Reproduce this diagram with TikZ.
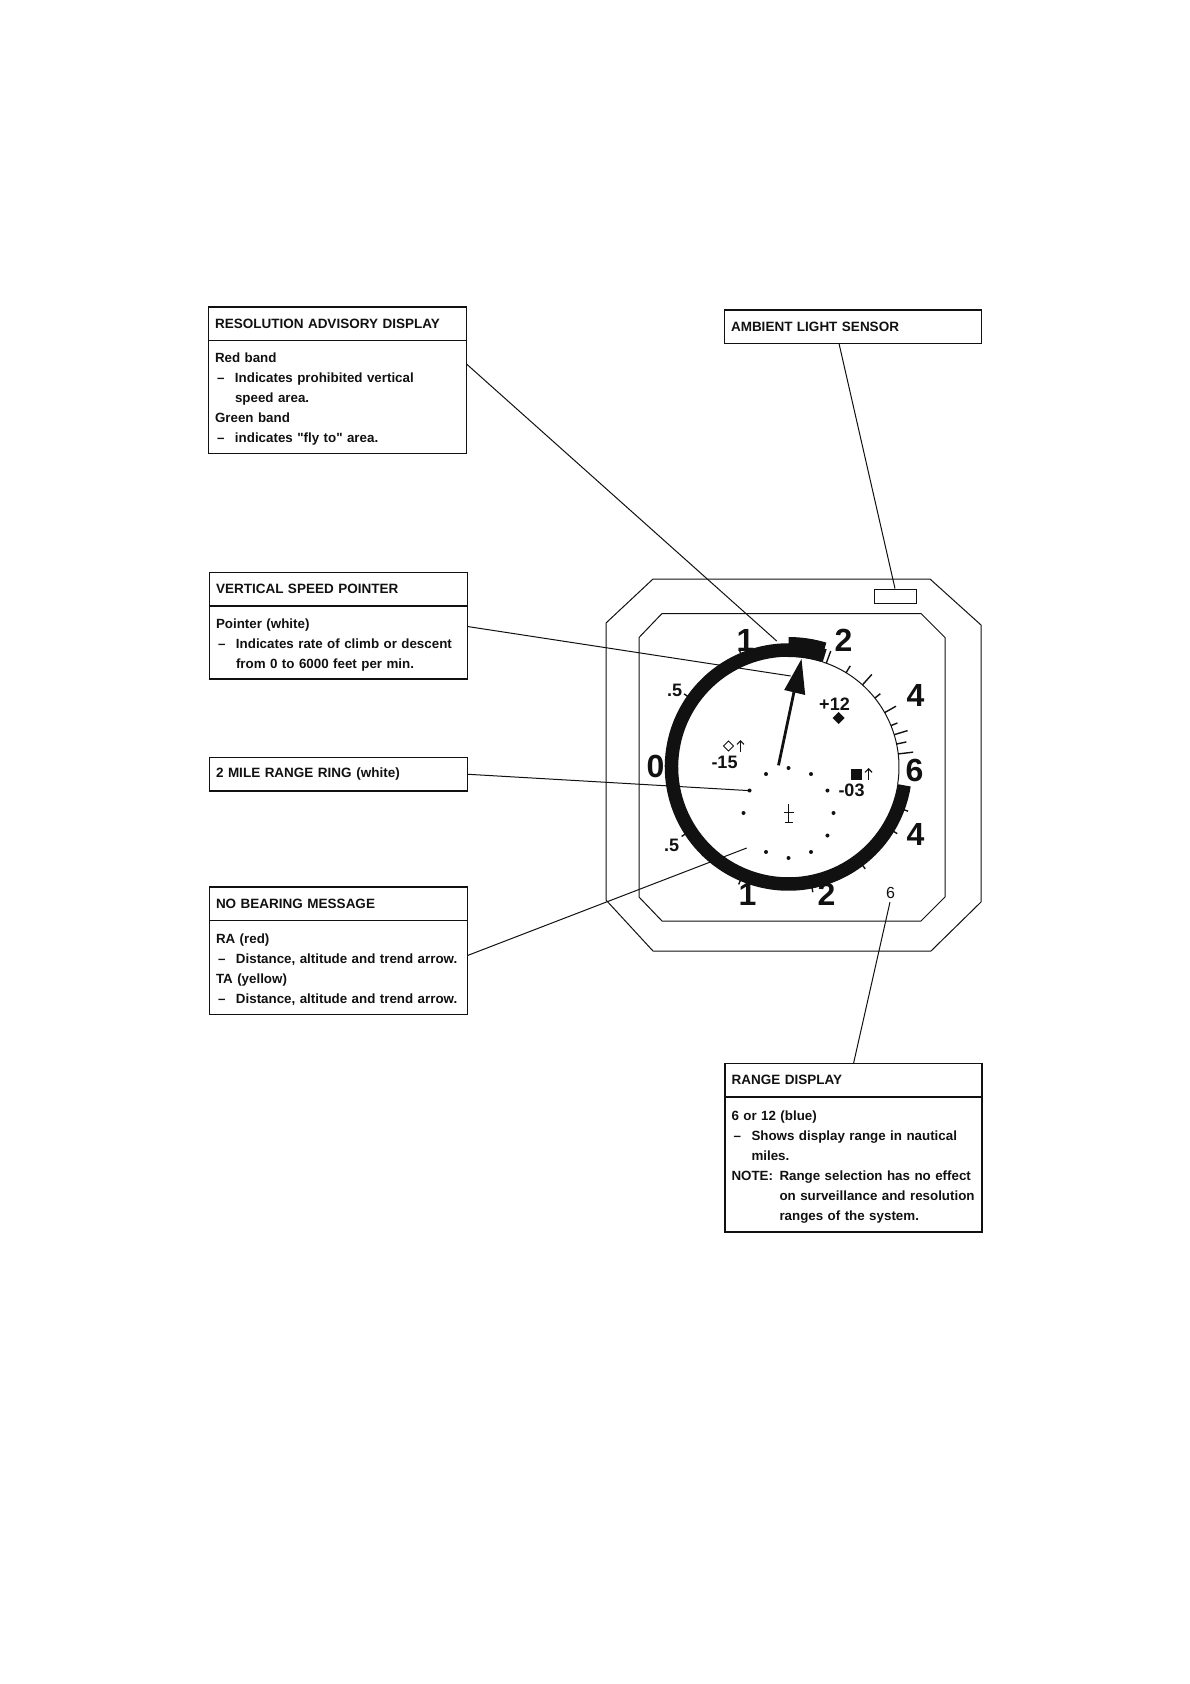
\documentclass[tikz,border=0pt]{standalone}
\usepackage{fontspec}
\setmainfont{Liberation Sans}[Ligatures=TeXOff]
\usetikzlibrary{positioning,arrows.meta,calc}
\definecolor{ink}{HTML}{111111}
\newcommand{\dashitem}[1]{\makebox[20pt][l]{\hspace{2pt}–}#1}
\newcommand{\indentitem}[1]{\hspace*{20pt}#1}
\newcommand{\noteitem}[1]{\hspace*{48pt}\mbox{#1}}
\tikzset{
  titlebox/.style={draw=ink, line width=1.2pt, anchor=north west, outer sep=0pt, inner xsep=6.5pt, inner ysep=0pt,
    text width=#1-13pt, minimum height=33.5pt, align=left, text=ink,
    font=\fontsize{13.5}{20}\selectfont\bfseries},
  bodybox/.style={draw=ink, line width=1.2pt, outer sep=0pt, inner xsep=6.5pt, inner ysep=0pt,
    text width=#1-13pt, align=left, text=ink, execute at begin node={\rule{0pt}{14pt}},
    font=\fontsize{13.35}{20}\selectfont\bfseries},
  leader/.style={draw=ink, line width=1pt},
  dial/.style={font=\fontsize{32}{32}\selectfont\bfseries, text=ink, inner sep=0pt},
  tagtext/.style={font=\fontsize{18}{18}\selectfont\bfseries, text=ink, inner sep=0pt},
  tick/.style={draw=ink, line width=1.4pt},
  trend/.style={draw=ink, line width=1.2pt, -{Straight Barb[length=3.5pt,width=7pt]}},
}
\begin{document}
\begin{tikzpicture}[x=1pt, y=-1pt]
    \useasboundingbox (0,0) rectangle (1190,1684);
    % callout boxes on the left
    \node[titlebox=258pt] (restitle) at (208.5,307) {RESOLUTION ADVISORY DISPLAY};
    \node[bodybox=258pt, minimum height=113pt, below=0pt of restitle] (resbody) {Red band\\ \dashitem{Indicates prohibited vertical}\\ \indentitem{speed area.}\\ Green band\\ \dashitem{indicates "fly to" area.}};
    \node[titlebox=258pt] (vsptitle) at (209.5,572.5) {VERTICAL SPEED POINTER};
    \node[bodybox=258pt, minimum height=73pt, below=0pt of vsptitle] (vspbody) {Pointer (white)\\ \dashitem{Indicates rate of climb or descent}\\ \indentitem{from 0 to 6000 feet per min.}};
    \node[titlebox=258pt] (ringtitle) at (209.5,757.5) {2 MILE RANGE RING (white)};
    \node[titlebox=258pt] (nobtitle) at (209.5,887) {NO BEARING MESSAGE};
    \node[bodybox=258pt, minimum height=94pt, below=0pt of nobtitle] (nobbody) {RA (red)\\ \dashitem{Distance, altitude and trend arrow.}\\ TA (yellow)\\ \dashitem{Distance, altitude and trend arrow.}};
    % callout boxes on the right
    \node[titlebox=257pt] (sensortitle) at (724.5,310) {AMBIENT LIGHT SENSOR};
    \node[titlebox=257pt] (rangetitle) at (725,1063.5) {RANGE DISPLAY};
    \node[bodybox=257pt, minimum height=135pt, below=0pt of rangetitle] (rangebody) {6 or 12 (blue)\\ \dashitem{Shows display range in nautical}\\ \indentitem{miles.}\\ \makebox[48pt][l]{NOTE:}Range selection has no effect\\ \noteitem{on surveillance and resolution}\\ \noteitem{ranges of the system.}};
    % case
    \draw[ink, line width=1pt] (653,579)--(930,579)--(981,625)--(981,902)--(931,951)--(653,951)--(606,900)--(606,623)--cycle;
    \draw[ink, line width=1pt] (662,613.5)--(921,613.5)--(945,637.5)--(945,897)--(921,921)--(662,921)--(639,897)--(639,637.5)--cycle;
    \node[draw=ink, line width=1pt, minimum width=42pt, minimum height=14pt, inner sep=0pt] (sensor) at (895,596) {};
    \coordinate (gauge) at (788.5,767);
    \begin{scope}[shift={(gauge)}, y=1pt]
      % bands
      \draw[ink, line width=13.5pt] (72:117) arc[start angle=72, end angle=351, radius=117];
      \draw[ink, line width=20pt] (90:120) arc[start angle=90, end angle=73, radius=120];
      \draw[ink, line width=1pt] (72:110.5) arc[start angle=72, end angle=-9, radius=110.5];
      % scale ticks
      \foreach \ang/\tlen in {70/13,58.6/8,48/14,38.6/7,29.5/13,22/7,17/14,12/10,6.8/15}
        \draw[tick] (\ang:110.5) -- (\ang:110.5+\tlen);
      \foreach \ang in {112.8,145,213,247,281,307,328.5,339.7}
        \draw[tick] (\ang:120) -- (\ang:127.5);
      % scale numbers
      \node[dial] (n1) at (-43,127) {1};
      \node[dial] (n2) at (55,127) {2};
      \node[dial] (n4) at (127,72) {4};
      \node[dial] (n6) at (126,-3) {6};
      \node[dial] (m4) at (127,-67) {4};
      \node[dial] (m2) at (38,-127) {2};
      \node[dial] (m1) at (-41,-127) {1};
      \node[dial] (n0) at (-133,1) {0};
      \node[tagtext] (h5) at (-114,77) {.5};
      \node[tagtext] (l5) at (-117,-78) {.5};
      \node[font=\fontsize{16}{16}\selectfont, text=ink, inner sep=0pt] (rangeval) at (102,-126) {6};
      % pointer
      \draw[ink, line width=2.8pt] (-10,1.7) -- (8,87);
      \fill[ink] (13,108) -- (-4.3,77) -- (16.7,72) -- cycle;
      % range ring dots
      \foreach \ang in {0,-30,-60,-90,-120,180,150,120,90,60,30}
        \fill[ink] ($(0,-46)+(\ang:45)$) circle (2pt);
      % own aircraft
      \draw[ink, line width=1pt] (0,-37) -- (0,-55) (-5,-45) -- (5,-45) (-4,-55) -- (4,-55);
      % traffic
      \node[tagtext] (tplus) at (46,63) {+12};
      \fill[ink] (50,55) -- (56,49) -- (50,43) -- (44,49) -- cycle;
      \node[tagtext] (tminus) at (-64,5) {-15};
      \draw[ink, line width=1pt] (-60,26) -- (-55,21) -- (-60,16) -- (-65,21) -- cycle;
      \draw[trend] (-48,15) -- (-48,27);
      \node[tagtext] (tnear) at (63,-23) {-03};
      \fill[ink] (62.5,-12.5) rectangle (73.5,-1.5);
      \draw[trend] (80,-13) -- (80,-1);
    \end{scope}
    % leaders
    \coordinate (bandtip) at (776.7,641);
    \coordinate (pointertip) at (790.7,676);
    \coordinate (ringdot) at (750.7,790.7);
    \coordinate (msgtip) at (746.7,848);
    \coordinate (rangetip) at (890,902);
    \draw[leader] ([yshift=33pt]resbody.east) -- (bandtip);
    \draw[leader] (vspbody.east) ++(0,-16) -- (pointertip);
    \draw[leader] (ringtitle.east) -- (ringdot);
    \draw[leader] (nobbody.east) ++(0,-12) -- (msgtip);
    \draw[leader] (sensortitle.south) ++(-14,0) -- (sensor.north);
    \draw[leader] (rangetitle.north) -- (rangetip);
  \end{tikzpicture}
\end{document}
